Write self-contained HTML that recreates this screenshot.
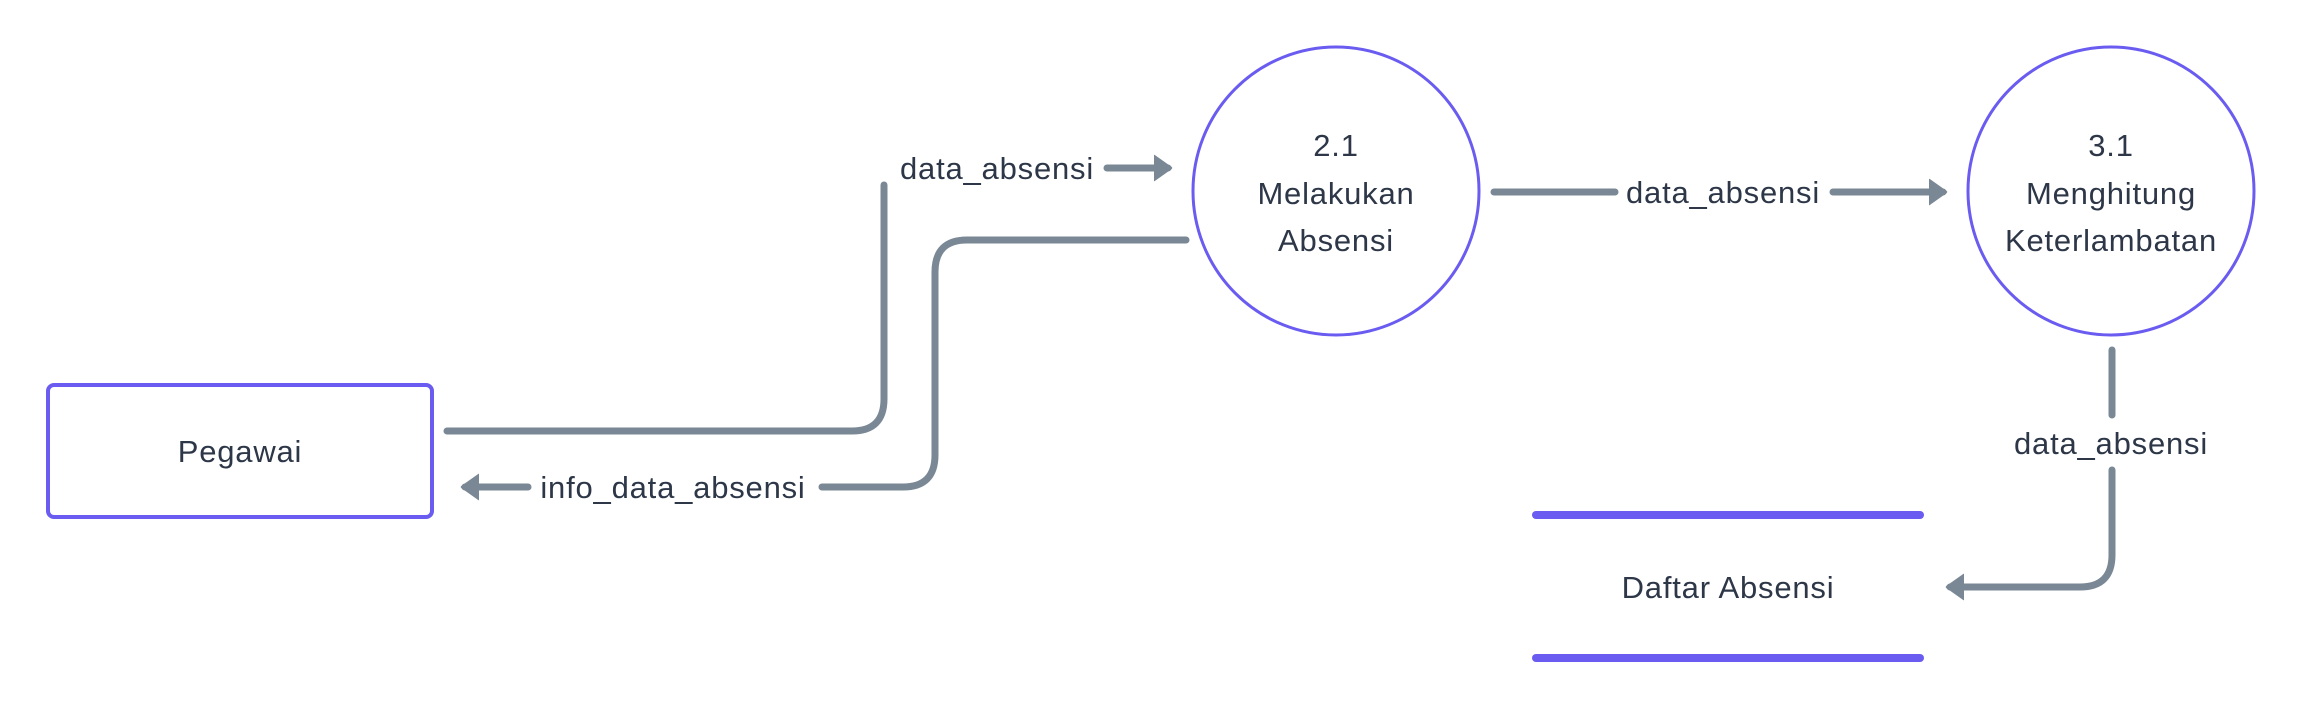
<!DOCTYPE html>
<html><head><style>html,body{margin:0;padding:0;background:#fff;}svg{display:block}</style></head>
<body>
<svg width="2304" height="714" viewBox="0 0 2304 714" xmlns="http://www.w3.org/2000/svg">
<defs>
<marker id="ah" markerWidth="4" markerHeight="4" refX="2" refY="2" orient="auto" markerUnits="strokeWidth">
<path d="M0,0.3 L2.4,2 L0,3.7 Z" fill="#7a8896" stroke="#7a8896" stroke-width="0.4" stroke-linejoin="round"/>
</marker>
</defs>
<g font-family="'Liberation Sans', sans-serif" font-size="31" letter-spacing="0.8" fill="#2d3748" text-anchor="middle">
<rect x="48" y="385" width="384" height="132" rx="6" fill="none" stroke="#6a5cf0" stroke-width="4"/>
<text x="240" y="462">Pegawai</text>

<g fill="none" stroke="#7a8896" stroke-width="7" stroke-linecap="round" stroke-linejoin="round">
<path d="M447,431 H852 Q884,431 884,399 V185"/>
<path d="M1107,168 H1168" marker-end="url(#ah)"/>
<path d="M1186,240 H967 Q935,240 935,272 V455 Q935,487 903,487 H822"/>
<path d="M528,487 H465" marker-end="url(#ah)"/>
<path d="M1494,192 H1615"/>
<path d="M1833,192 H1943" marker-end="url(#ah)"/>
<path d="M2112,350 V415"/>
<path d="M2112,470 V555 Q2112,587 2080,587 H1950" marker-end="url(#ah)"/>
</g>

<text x="997" y="179">data_absensi</text>
<text x="673" y="498">info_data_absensi</text>
<text x="1723" y="203">data_absensi</text>
<text x="2111" y="454">data_absensi</text>

<ellipse cx="1336" cy="191" rx="143" ry="144" fill="none" stroke="#6a5cf0" stroke-width="3"/>
<text x="1336" y="156">2.1</text>
<text x="1336" y="204">Melakukan</text>
<text x="1336" y="251">Absensi</text>

<ellipse cx="2111" cy="191" rx="143" ry="144" fill="none" stroke="#6a5cf0" stroke-width="3"/>
<text x="2111" y="156">3.1</text>
<text x="2111" y="204">Menghitung</text>
<text x="2111" y="251">Keterlambatan</text>

<line x1="1536" y1="515" x2="1920" y2="515" stroke="#6a5cf0" stroke-width="8" stroke-linecap="round"/>
<line x1="1536" y1="658" x2="1920" y2="658" stroke="#6a5cf0" stroke-width="8" stroke-linecap="round"/>
<text x="1728" y="598">Daftar Absensi</text>
</g>
</svg>
</body></html>
